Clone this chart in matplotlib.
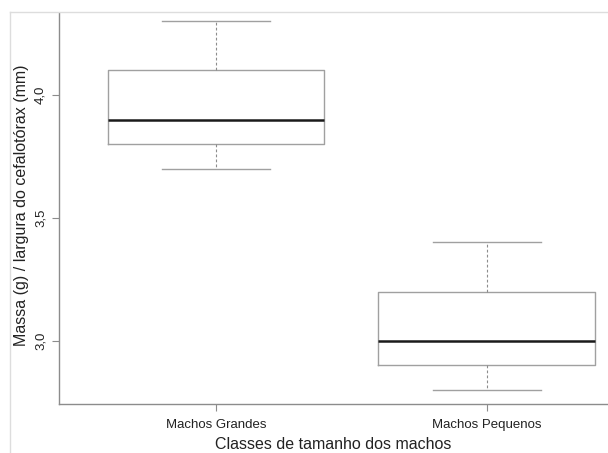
import matplotlib
matplotlib.use("Agg")
import matplotlib.pyplot as plt
from matplotlib.lines import Line2D

categories = ["Machos Grandes", "Machos Pequenos"]
whislo = [3.7, 2.8]
q1 = [3.8, 2.9]
med = [3.9, 3.0]
q3 = [4.1, 3.2]
whishi = [4.3, 3.4]
yticks = [3.0, 3.5, 4.0]
yticklabels = ["3,0", "3,5", "4,0"]

plt.rcParams['font.family'] = ['Liberation Sans', 'DejaVu Sans']

W, H = 608, 453
fig = plt.figure(figsize=(W/100, H/100), dpi=100)
ax = fig.add_axes([59/W, (H-404)/H, (W-59)/W, (404-6)/H])

stats = [dict(label=c, whislo=a, q1=b, med=m, q3=d, whishi=e, fliers=[])
         for c, a, b, m, d, e in zip(categories, whislo, q1, med, q3, whishi)]
grey = "#8c8c8c"
ax.bxp(stats, positions=[1, 2], widths=0.8, showfliers=False,
       boxprops=dict(color="#a0a0a0", linewidth=1.0),
       medianprops=dict(color="#1a1a1a", linewidth=1.8),
       whiskerprops=dict(color=grey, linewidth=0.8, linestyle=(0, (2.5, 2))),
       capprops=dict(color="#a0a0a0", linewidth=1.0))

ax.set_xlim(0.42, 2.448)
ax.set_ylim(2.743, 4.362)
ax.set_yticks(yticks)
ax.set_yticklabels(yticklabels, rotation=90, va='center', fontsize=9.5, color="#222222")
ax.set_xticks([1, 2])
ax.set_xticklabels(categories, fontsize=9.5, color="#222222")
ax.tick_params(axis='both', color=grey, length=5, width=0.8)
ax.tick_params(axis='x', pad=6)
ax.tick_params(axis='y', pad=4)
for s in ['top', 'right']:
    ax.spines[s].set_visible(False)
for s in ['left', 'bottom']:
    ax.spines[s].set_color(grey)
    ax.spines[s].set_linewidth(1.0)
ax.spines['left'].set_bounds(2.743, 4.333)
ax.set_xlabel("Classes de tamanho dos machos", fontsize=11.5, color="#222222", labelpad=4)
ax.set_ylabel("Massa (g) / largura do cefalotórax (mm)", fontsize=11.5, color="#222222", labelpad=4)

fig.add_artist(Line2D([10/W, 10/W], [0, (H-12)/H], color="#dddddd", linewidth=1.0, transform=fig.transFigure))
fig.add_artist(Line2D([10/W, 1], [(H-12)/H, (H-12)/H], color="#dddddd", linewidth=1.0, transform=fig.transFigure))

fig.savefig("out.png", dpi=100)
